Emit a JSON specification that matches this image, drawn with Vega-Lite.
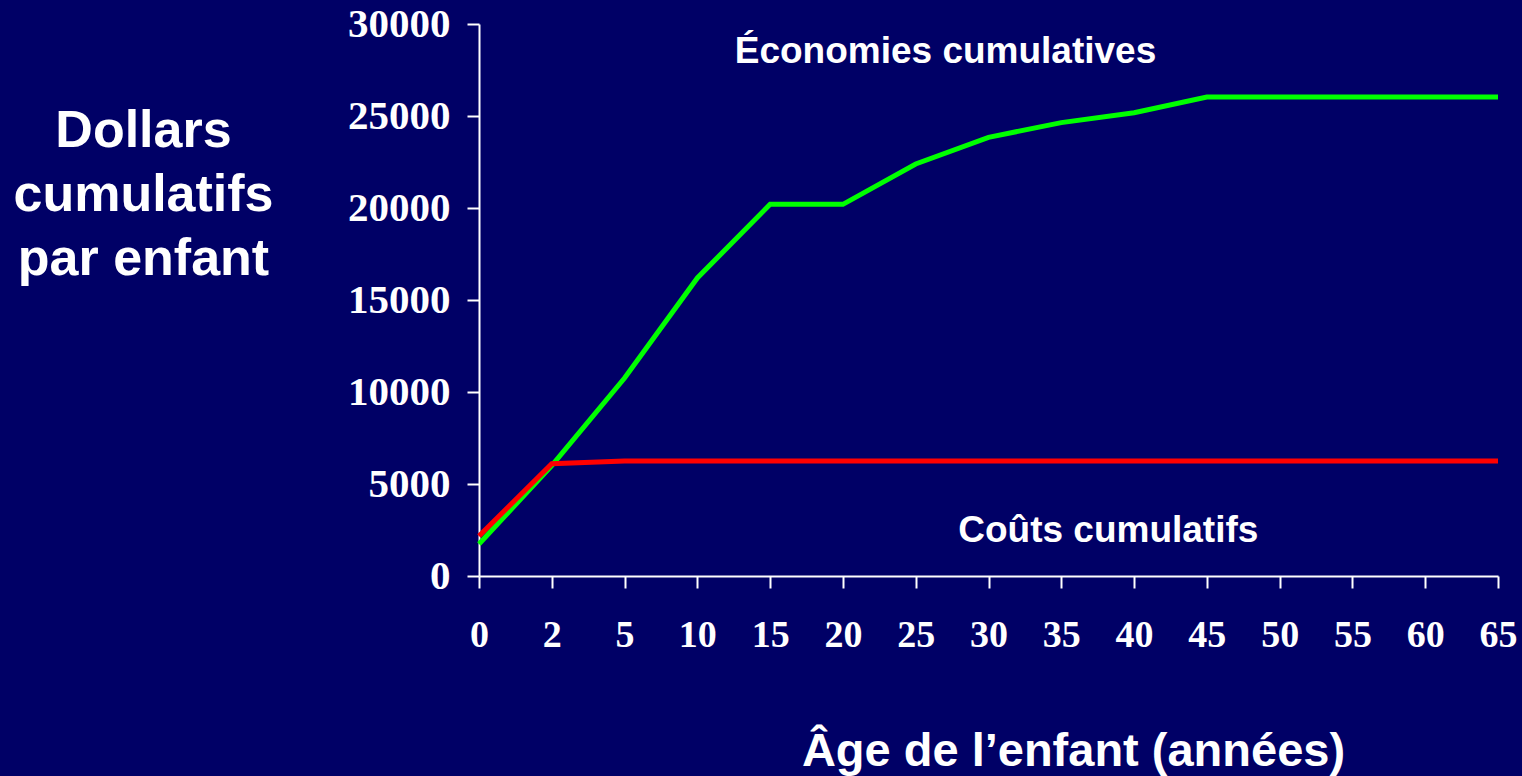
{
  "$schema": "https://vega.github.io/schema/vega-lite/v6.json",
  "width": 1019,
  "height": 552,
  "autosize": {"type": "none"},
  "padding": {"left": 479, "top": 24, "right": 24, "bottom": 200},
  "background": "#000066",
  "config": {
    "view": {"stroke": null},
    "axis": {
      "domainColor": "#ffffff",
      "domainWidth": 2,
      "tickColor": "#ffffff",
      "tickWidth": 2,
      "tickSize": 12,
      "grid": false,
      "labelColor": "#ffffff",
      "labelFont": "Liberation Serif",
      "labelFontWeight": "bold",
      "titleColor": "#ffffff",
      "titleFont": "Liberation Sans",
      "titleFontWeight": "bold"
    }
  },
  "data": {
    "values": [
      {"age": "0", "serie": "Économies", "dollars": 1740},
      {"age": "2", "serie": "Économies", "dollars": 6000},
      {"age": "5", "serie": "Économies", "dollars": 10760},
      {"age": "10", "serie": "Économies", "dollars": 16200},
      {"age": "15", "serie": "Économies", "dollars": 20200},
      {"age": "20", "serie": "Économies", "dollars": 20200},
      {"age": "25", "serie": "Économies", "dollars": 22390},
      {"age": "30", "serie": "Économies", "dollars": 23840},
      {"age": "35", "serie": "Économies", "dollars": 24640},
      {"age": "40", "serie": "Économies", "dollars": 25180},
      {"age": "45", "serie": "Économies", "dollars": 26030},
      {"age": "50", "serie": "Économies", "dollars": 26030},
      {"age": "55", "serie": "Économies", "dollars": 26030},
      {"age": "60", "serie": "Économies", "dollars": 26030},
      {"age": "65", "serie": "Économies", "dollars": 26030},
      {"age": "0", "serie": "Coûts", "dollars": 2170},
      {"age": "2", "serie": "Coûts", "dollars": 6100},
      {"age": "5", "serie": "Coûts", "dollars": 6250},
      {"age": "10", "serie": "Coûts", "dollars": 6250},
      {"age": "15", "serie": "Coûts", "dollars": 6250},
      {"age": "20", "serie": "Coûts", "dollars": 6250},
      {"age": "25", "serie": "Coûts", "dollars": 6250},
      {"age": "30", "serie": "Coûts", "dollars": 6250},
      {"age": "35", "serie": "Coûts", "dollars": 6250},
      {"age": "40", "serie": "Coûts", "dollars": 6250},
      {"age": "45", "serie": "Coûts", "dollars": 6250},
      {"age": "50", "serie": "Coûts", "dollars": 6250},
      {"age": "55", "serie": "Coûts", "dollars": 6250},
      {"age": "60", "serie": "Coûts", "dollars": 6250},
      {"age": "65", "serie": "Coûts", "dollars": 6250}
    ]
  },
  "encoding": {
    "x": {
      "field": "age",
      "type": "ordinal",
      "sort": null,
      "scale": {"type": "point", "padding": 0, "domain": ["0","2","5","10","15","20","25","30","35","40","45","50","55","60","65"]},
      "axis": {
        "labelAngle": 0,
        "labelFontSize": 38,
        "labelPadding": 28,
        "title": "Âge de l’enfant (années)",
        "titleFontSize": 47,
        "titleX": 594,
        "titleY": 189,
        "titleAlign": "center",
        "titleBaseline": "alphabetic"
      }
    },
    "y": {
      "field": "dollars",
      "type": "quantitative",
      "scale": {"domain": [0, 30000], "nice": false},
      "axis": {
        "values": [0, 5000, 10000, 15000, 20000, 25000, 30000],
        "format": "d",
        "labelFontSize": 41,
        "labelPadding": 17,
        "title": ["Dollars", "cumulatifs", "par enfant"],
        "titleAngle": 0,
        "titleFontSize": 52,
        "titleLineHeight": 64,
        "titleX": -336,
        "titleY": 106,
        "titleAlign": "center",
        "titleBaseline": "middle"
      }
    }
  },
  "layer": [
    {
      "transform": [{"filter": "datum.serie === 'Économies'"}],
      "mark": {"type": "line", "color": "#00ff00", "strokeWidth": 5, "clip": false},
      "encoding": {}
    },
    {
      "transform": [{"filter": "datum.serie === 'Coûts'"}],
      "mark": {"type": "line", "color": "#ff0000", "strokeWidth": 5, "clip": false},
      "encoding": {}
    },
    {
      "data": {
        "values": [
          {"age": "30", "dollars": 27880, "texte": "Économies cumulatives"}
        ]
      },
      "mark": {"type": "text", "color": "#ffffff", "font": "Liberation Sans", "fontWeight": "bold", "fontSize": 37, "align": "center", "baseline": "alphabetic", "dx": -43},
      "encoding": {"text": {"field": "texte"}}
    },
    {
      "data": {
        "values": [
          {"age": "35", "dollars": 1850, "texte": "Coûts cumulatifs"}
        ]
      },
      "mark": {"type": "text", "color": "#ffffff", "font": "Liberation Sans", "fontWeight": "bold", "fontSize": 37, "align": "center", "baseline": "alphabetic", "dx": 47},
      "encoding": {"text": {"field": "texte"}}
    }
  ]
}
